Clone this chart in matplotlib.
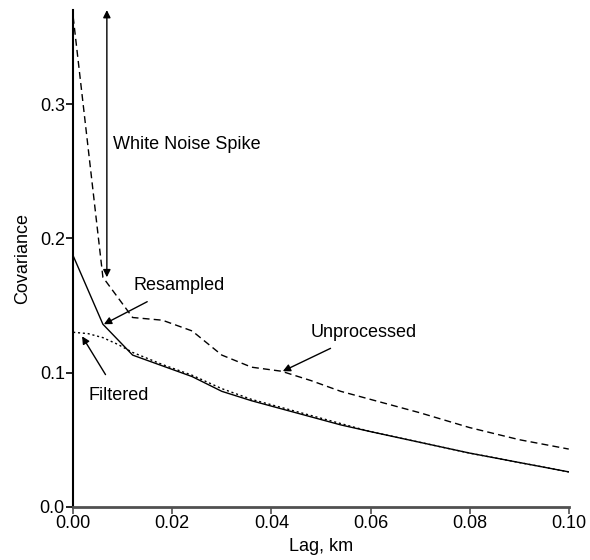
import matplotlib.pyplot as plt

plt.rcParams['font.family'] = ['Liberation Sans', 'DejaVu Sans']

# lag, km
lag_unproc = [0.0, 0.006, 0.012, 0.018, 0.024, 0.030, 0.036, 0.042, 0.048, 0.054, 0.060, 0.070, 0.080, 0.090, 0.100]
cov_unproc = [0.365, 0.171, 0.141, 0.139, 0.131, 0.113, 0.104, 0.101, 0.094, 0.086, 0.080, 0.070, 0.059, 0.050, 0.043]

lag_resamp = [0.0, 0.006, 0.012, 0.018, 0.024, 0.030, 0.036, 0.042, 0.048, 0.054, 0.060, 0.070, 0.080, 0.090, 0.100]
cov_resamp = [0.187, 0.136, 0.113, 0.105, 0.097, 0.086, 0.079, 0.073, 0.067, 0.061, 0.056, 0.048, 0.040, 0.033, 0.026]

lag_filt = [0.0, 0.003, 0.006, 0.009, 0.012, 0.018, 0.024, 0.030, 0.036, 0.042, 0.048, 0.054, 0.060, 0.070, 0.080, 0.090, 0.100]
cov_filt = [0.130, 0.129, 0.126, 0.121, 0.115, 0.106, 0.098, 0.088, 0.080, 0.074, 0.068, 0.062, 0.056, 0.048, 0.040, 0.033, 0.026]

fig = plt.figure(figsize=(5.9, 5.6), dpi=100)
ax = fig.add_axes([0.124, 0.095, 0.840, 0.887])

ax.plot(lag_unproc, cov_unproc, color='black', linestyle=(0, (5, 3)), linewidth=1.0)
ax.plot(lag_resamp, cov_resamp, color='black', linestyle='-', linewidth=1.0)
ax.plot(lag_filt, cov_filt, color='black', linestyle=(0, (1.5, 2)), linewidth=1.0)

ax.annotate('', xy=(0.0068, 0.370), xytext=(0.0068, 0.171),
            arrowprops=dict(arrowstyle='<|-|>', color='black', lw=1.0, shrinkA=0, shrinkB=0,
                            mutation_scale=11))
ax.text(0.0080, 0.270, 'White Noise Spike', fontsize=13, va='center', ha='left')

ax.annotate('Resampled', xy=(0.0062, 0.136), xytext=(0.0121, 0.165), fontsize=13,
            va='center', ha='left',
            arrowprops=dict(arrowstyle='-|>', color='black', lw=1.0, mutation_scale=11,
                            shrinkA=8, shrinkB=0))
ax.annotate('Filtered', xy=(0.0018, 0.127), xytext=(0.0030, 0.083), fontsize=13,
            va='center', ha='left',
            arrowprops=dict(arrowstyle='-|>', color='black', lw=1.0, mutation_scale=11,
                            shrinkA=8, shrinkB=0))
ax.annotate('Unprocessed', xy=(0.0423, 0.101), xytext=(0.0480, 0.130), fontsize=13,
            va='center', ha='left',
            arrowprops=dict(arrowstyle='-|>', color='black', lw=1.0, mutation_scale=11,
                            shrinkA=8, shrinkB=0))

ax.set_xlim(0, 0.10)
ax.set_ylim(0, 0.37)
ax.set_xticks([0.00, 0.02, 0.04, 0.06, 0.08, 0.10])
ax.set_xticklabels(['0.00', '0.02', '0.04', '0.06', '0.08', '0.10'])
ax.set_yticks([0.0, 0.1, 0.2, 0.3])
ax.set_yticklabels(['0.0', '0.1', '0.2', '0.3'])
ax.spines['top'].set_visible(False)
ax.spines['right'].set_visible(False)
ax.spines['left'].set_linewidth(1.5)
ax.spines['bottom'].set_linewidth(2.0)
ax.spines['bottom'].set_color('#505050')
ax.tick_params(direction='out', length=5, width=1.2, labelsize=13, pad=1)
ax.tick_params(axis='x', colors='#505050', labelcolor='black')
ax.set_xlabel('Lag, km', fontsize=13, labelpad=4)
ax.set_ylabel('Covariance', fontsize=13, labelpad=6)

fig.savefig('out.png', dpi=100)
